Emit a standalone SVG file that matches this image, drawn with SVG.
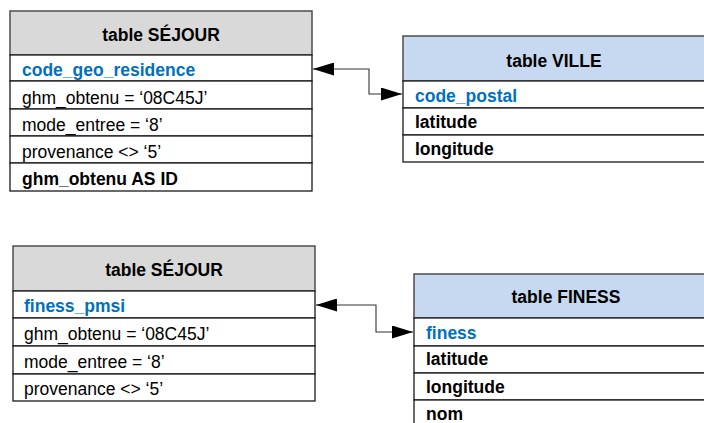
<svg xmlns="http://www.w3.org/2000/svg" width="704" height="423" viewBox="0 0 704 423">
<defs>
<style>
text{font-family:"Liberation Sans",Arial,sans-serif;font-size:17.5px;fill:#000}
.h{font-weight:bold;text-anchor:middle}
.k{font-weight:bold;fill:#0070c0}
.b{font-weight:bold}
.hg{fill:#d9d9d9;stroke:#4d4d4d;stroke-width:1.5}
.hb{fill:#c6d9f0;stroke:#4d4d4d;stroke-width:1.5}
.row{fill:#fff;stroke:#1a1a1a;stroke-width:1.3}
.conn{fill:none;stroke:#333;stroke-width:1.1}
</style>
<marker id="arr" viewBox="0 0 21 13" refX="21" refY="6.5" markerWidth="21" markerHeight="13" markerUnits="userSpaceOnUse" orient="auto-start-reverse">
<path d="M0,0 L21,6.5 L0,13 z" fill="#000"/>
</marker>
</defs>

<g id="sejour1">
<rect class="hg" x="10" y="11" width="302" height="44"/>
<text class="h" x="161" y="41">table SÉJOUR</text>
<rect class="row" x="10" y="55" width="302" height="26"/>
<rect class="row" x="10" y="81" width="302" height="28"/>
<rect class="row" x="10" y="109" width="302" height="27"/>
<rect class="row" x="10" y="136" width="302" height="27"/>
<rect class="row" x="10" y="163" width="302" height="28"/>
<text class="k" x="22" y="76">code_geo_residence</text>
<text x="22" y="104">ghm_obtenu = ‘08C45J’</text>
<text x="22" y="131">mode_entree = ‘8’</text>
<text x="22" y="158">provenance &lt;&gt; ‘5’</text>
<text class="b" x="22" y="185">ghm_obtenu AS ID</text>
</g>

<g id="ville">
<rect class="hb" x="403" y="36" width="303" height="45"/>
<text class="h" x="554" y="67">table VILLE</text>
<rect class="row" x="403" y="81" width="303" height="27"/>
<rect class="row" x="403" y="108" width="303" height="27"/>
<rect class="row" x="403" y="135" width="303" height="27"/>
<text class="k" x="415" y="102">code_postal</text>
<text class="b" x="415" y="128">latitude</text>
<text class="b" x="415" y="155">longitude</text>
</g>

<g id="sejour2">
<rect class="hg" x="13" y="246" width="302" height="45"/>
<text class="h" x="164" y="276">table SÉJOUR</text>
<rect class="row" x="13" y="291" width="302" height="27"/>
<rect class="row" x="13" y="318" width="302" height="28"/>
<rect class="row" x="13" y="346" width="302" height="28"/>
<rect class="row" x="13" y="374" width="302" height="27"/>
<text class="k" x="24" y="312">finess_pmsi</text>
<text x="24" y="340">ghm_obtenu = ‘08C45J’</text>
<text x="24" y="368">mode_entree = ‘8’</text>
<text x="24" y="395">provenance &lt;&gt; ‘5’</text>
</g>

<g id="finess">
<rect class="hb" x="414" y="274" width="304" height="44"/>
<text class="h" x="566" y="303">table FINESS</text>
<rect class="row" x="414" y="318" width="304" height="28"/>
<rect class="row" x="414" y="346" width="304" height="27"/>
<rect class="row" x="414" y="373" width="304" height="27"/>
<rect class="row" x="414" y="400" width="304" height="28"/>
<text class="k" x="426" y="339">finess</text>
<text class="b" x="426" y="365">latitude</text>
<text class="b" x="426" y="393">longitude</text>
<text class="b" x="426" y="420">nom</text>
</g>

<g id="connectors">
<path class="conn" d="M313,69 H369 V94 H402" marker-start="url(#arr)" marker-end="url(#arr)"/>
<path class="conn" d="M316,305 H376 V332 H413" marker-start="url(#arr)" marker-end="url(#arr)"/>
</g>
</svg>
